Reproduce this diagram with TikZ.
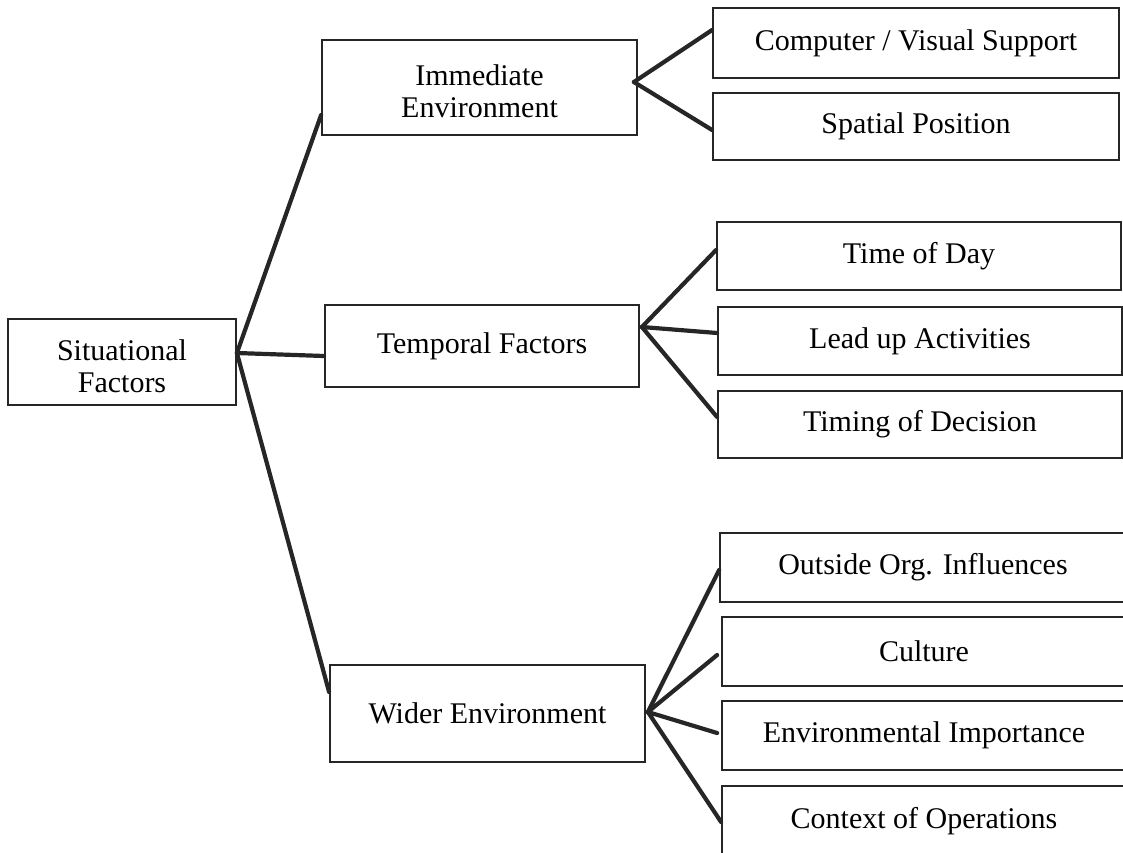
\documentclass[tikz,border=0pt]{standalone}
\usepackage{fontspec}
\setmainfont{Liberation Serif}
% taller first line, to sit two-line labels a little lower in their boxes
\newcommand{\toplift}{\rule{0pt}{29pt}}
\begin{document}
\begin{tikzpicture}[x=1pt,y=-1pt,
  box/.style={draw=black!85,line width=1.8pt,rectangle,inner sep=0pt,
    align=center,font=\fontsize{30}{32}\selectfont},
  link/.style={draw=black!85,line width=4.2pt,line cap=round}]
\useasboundingbox (0,0) rectangle (1123,852);

% root
\node[box,minimum width=228pt,minimum height=86pt] (sf) at (122,362) {\toplift Situational\\Factors};

% second level
\node[box,minimum width=315pt,minimum height=95pt] (ie) at (479.5,87.5) {\toplift Immediate\\Environment};
\node[box,minimum width=314pt,minimum height=82pt] (tf) at (482,346) {Temporal Factors};
\node[box,minimum width=315pt,minimum height=97pt] (we) at (487.5,713.5) {Wider Environment};

% leaves
\node[box,minimum width=406pt,minimum height=70pt] (cv) at (916,43) {Computer / Visual Support};
\node[box,minimum width=406pt,minimum height=67pt] (sp) at (916,126.5) {Spatial Position};
\node[box,minimum width=404pt,minimum height=68pt] (td) at (919,256) {Time of Day};
\node[box,minimum width=404pt,minimum height=68pt] (la) at (920,341) {Lead up Activities};
\node[box,minimum width=404pt,minimum height=67pt] (ti) at (920,424.5) {Timing of Decision};
\node[box,minimum width=406pt,minimum height=69pt] (oo) at (923,567.5) {Outside Org. Influences};
\node[box,minimum width=404pt,minimum height=69pt] (cu) at (924,651.5) {Culture};
\node[box,minimum width=404pt,minimum height=69pt] (ei) at (924,735.5) {Environmental Importance};
\node[box,minimum width=404pt,minimum height=70pt] (co) at (924,821) {Context of Operations};

% root to second level
\draw[link] ([yshift=9pt]sf.east) -- ([yshift=-27.5pt]ie.west);
\draw[link] ([yshift=9pt]sf.east) -- ([yshift=-10pt]tf.west);
\draw[link] ([yshift=9pt]sf.east) -- ([yshift=21.5pt]we.west);

% immediate environment
\draw[link] ([xshift=-4pt,yshift=5.5pt]ie.east) -- ([yshift=13pt]cv.west);
\draw[link] ([xshift=-4pt,yshift=5.5pt]ie.east) -- ([yshift=-3.5pt]sp.west);

% temporal factors
\draw[link] ([xshift=2pt,yshift=19pt]tf.east) -- ([yshift=6pt]td.west);
\draw[link] ([xshift=2pt,yshift=19pt]tf.east) -- ([yshift=8pt]la.west);
\draw[link] ([xshift=2pt,yshift=19pt]tf.east) -- ([yshift=7.5pt]ti.west);

% wider environment
\draw[link] ([xshift=2pt,yshift=1.5pt]we.east) -- ([yshift=-2.5pt]oo.west);
\draw[link] ([xshift=2pt,yshift=1.5pt]we.east) -- ([xshift=-4pt,yshift=-3.5pt]cu.west);
\draw[link] ([xshift=2pt,yshift=1.5pt]we.east) -- ([xshift=-4pt,yshift=2.5pt]ei.west);
\draw[link] ([xshift=2pt,yshift=1.5pt]we.east) -- ([yshift=-1pt]co.west);
\end{tikzpicture}
\end{document}
